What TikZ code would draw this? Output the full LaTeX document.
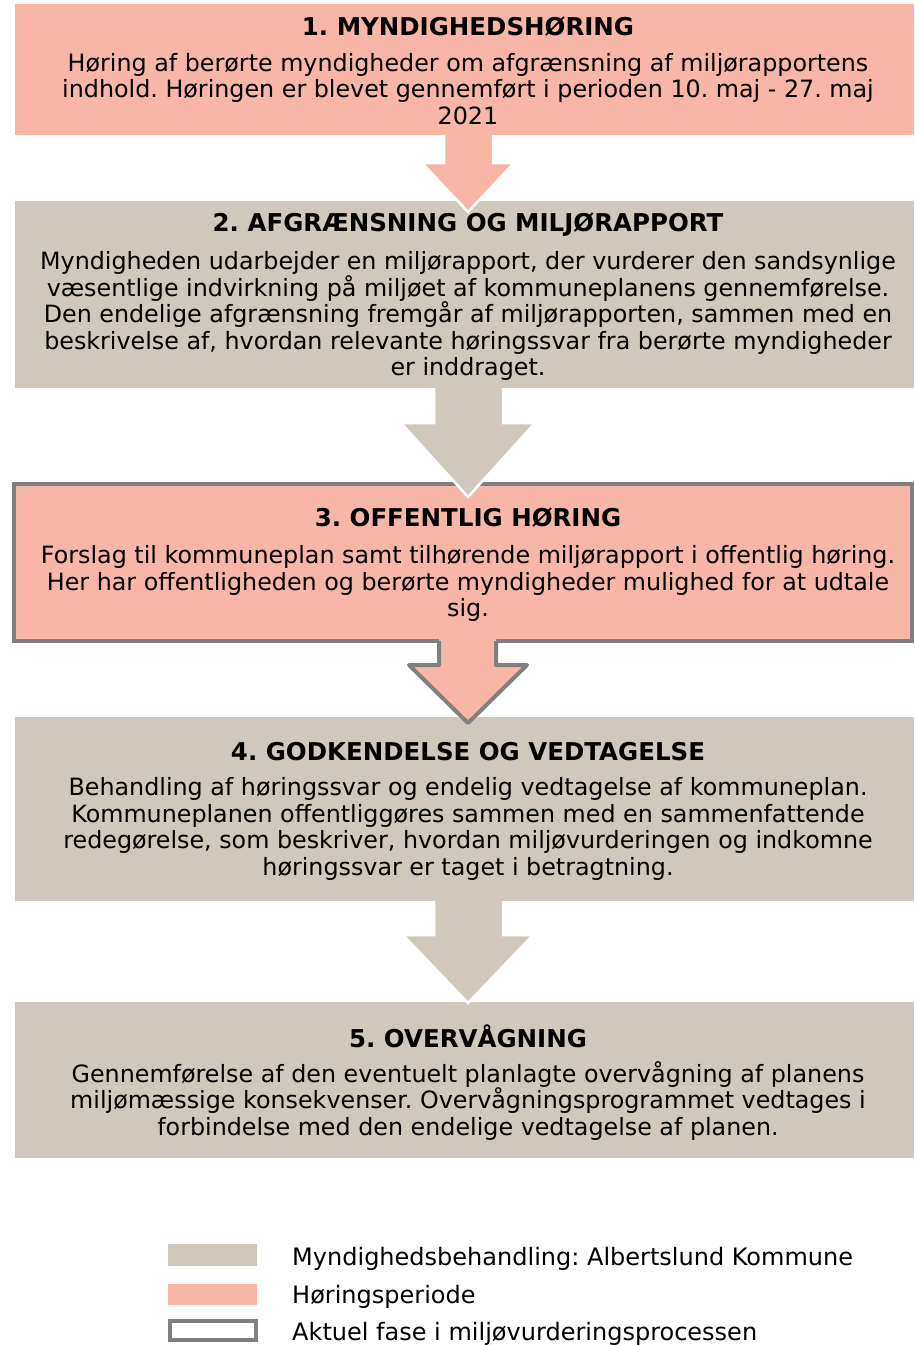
\documentclass[tikz,border=0pt]{standalone}
\usepackage{fontspec}
\setmainfont{DejaVu Sans}
\usetikzlibrary{calc}
\definecolor{hoering}{RGB}{248,182,166}
\definecolor{myndighed}{RGB}{208,200,188}
\definecolor{aktuel}{RGB}{128,128,128}
\frenchspacing
\begin{document}
\begin{tikzpicture}[
			x=1pt, y=-1pt,
			boks/.style = {rectangle, inner sep=0, outer sep=0, minimum width=899, anchor=north west},
			titel/.style = {inner sep=0, font=\fontsize{24.5}{26.5}\selectfont\bfseries},
			tekst/.style = {inner sep=0, align=center, font=\fontsize{23.8}{26.5}\selectfont},
			pil/.style = {draw=white, line width=2.5, line join=miter},
			felt/.style = {rectangle, inner sep=0, outer sep=0, minimum width=89, minimum height=21},
			]
			\useasboundingbox (0,0) rectangle (914,1345);
			\node[boks, fill=hoering, minimum height=131] (b1) at (15,4) {};
			\node[boks, fill=myndighed, minimum height=187] (b2) at (15,201) {};
			\node[boks, fill=hoering, draw=aktuel, line width=4, minimum width=898, minimum height=157] (b3) at (14,484) {};
			\node[boks, fill=myndighed, minimum height=184] (b4) at (15,717) {};
			\node[boks, fill=myndighed, minimum height=156] (b5) at (15,1002) {};
			\draw[pil, fill=hoering] ($(b1.south)+(-20.5,0)$) -- ++(0,28) -- ++(-22,0) -- ($(b1.south)+(3.5,77)$)
				-- ($(b1.south)+(49.5,28)$) -- ++(-21,0) -- ++(0,-28);
			\draw[pil, fill=myndighed] ($(b2.south)+(-30.5,0)$) -- ++(0,35) -- ++(-33,0) -- ($(b2.south)+(3.5,109)$)
				-- ($(b2.south)+(70.5,35)$) -- ++(-32,0) -- ++(0,-35);
			\fill[hoering] ($(b3.south)+(-24,-3)$) -- ++(0,27) -- ++(-30,0) -- ($(b3.south)+(5,82)$)
				-- ($(b3.south)+(64,24)$) -- ++(-31,0) -- ++(0,-27) -- cycle;
			\draw[aktuel, line width=4, line join=round] ($(b3.south)+(-24,0)$) -- ++(0,24) -- ++(-30,0) -- ($(b3.south)+(5,82)$)
				-- ($(b3.south)+(64,24)$) -- ++(-31,0) -- ++(0,-24);
			\draw[pil, fill=myndighed] ($(b4.south)+(-30.5,0)$) -- ++(0,34) -- ++(-31,0) -- ($(b4.south)+(3.5,102)$)
				-- ($(b4.south)+(68.5,34)$) -- ++(-30,0) -- ++(0,-34);
			\node[titel] (t1) at (468,26.5) {1. MYNDIGHEDSHØRING};
			\node[tekst] (t1b) at (468,89) {Høring af berørte myndigheder om afgrænsning af miljørapportens\\
				indhold. Høringen er blevet gennemført i perioden 10. maj - 27. maj\\ 2021};
			\node[titel] (t2) at (468,225) {2. AFGRÆNSNING OG MILJØRAPPORT};
			\node[tekst] (t2b) at (468,316) {Myndigheden udarbejder en miljørapport, der vurderer den sandsynlige\\
				væsentlige indvirkning på miljøet af kommuneplanens gennemførelse.\\
				Den endelige afgrænsning fremgår af miljørapporten, sammen med en\\
				beskrivelse af, hvordan relevante høringssvar fra berørte myndigheder\\ er inddraget.};
			\node[titel] (t3) at (468,518) {3. OFFENTLIG HØRING};
			\node[tekst] (t3b) at (468,583.5) {Forslag til kommuneplan samt tilhørende miljørapport i offentlig høring.\\
				Her har offentligheden og berørte myndigheder mulighed for at udtale\\ sig.};
			\node[titel] (t4) at (468,752) {4. GODKENDELSE OG VEDTAGELSE};
			\node[tekst] (t4b) at (468,829) {Behandling af høringssvar og endelig vedtagelse af kommuneplan.\\
				Kommuneplanen offentliggøres sammen med en sammenfattende\\
				redegørelse, som beskriver, hvordan miljøvurderingen og indkomne\\
				høringssvar er taget i betragtning.};
			\node[titel] (t5) at (468,1036) {5. OVERVÅGNING};
			\node[tekst] (t5b) at (468,1101) {Gennemførelse af den eventuelt planlagte overvågning af planens\\
				miljømæssige konsekvenser. Overvågningsprogrammet vedtages i\\
				forbindelse med den endelige vedtagelse af planen.};
			\node[felt, fill=myndighed, minimum height=22] (l1) at (212.5,1255) {};
			\node[felt, fill=hoering] (l2) at (212.5,1294.5) {};
			\node[felt, fill=white, draw=aktuel, line width=4, minimum width=86, minimum height=19] (l3) at (213,1330.5) {};
			\node[tekst, anchor=west, font=\fontsize{24}{26.5}\selectfont] (l1t) at (292,1258.5) {Myndighedsbehandling: Albertslund Kommune};
			\node[tekst, anchor=west, font=\fontsize{24}{26.5}\selectfont] (l2t) at (292,1296.5) {Høringsperiode};
			\node[tekst, anchor=west, font=\fontsize{24}{26.5}\selectfont] (l3t) at (292,1333.5) {Aktuel fase i miljøvurderingsprocessen};
		\end{tikzpicture}
\end{document}
